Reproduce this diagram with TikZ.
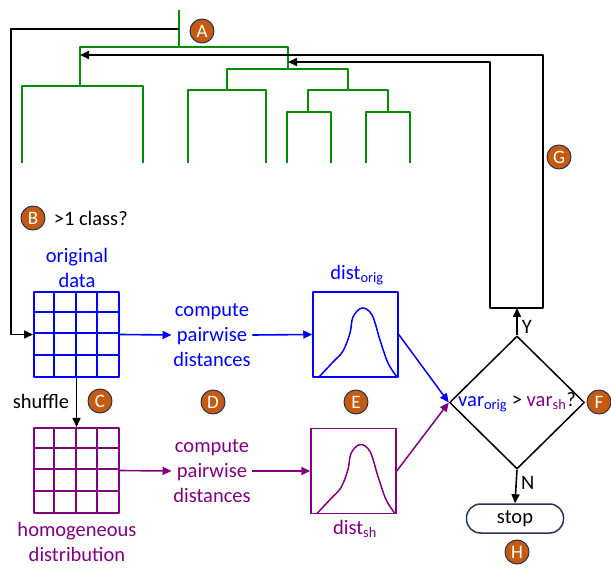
\documentclass[tikz,border=0pt]{standalone}
\usepackage{fontspec}
\setmainfont{Carlito}
\usetikzlibrary{arrows.meta,shapes.geometric}
\definecolor{origc}{RGB}{0,0,255}
\definecolor{shc}{RGB}{128,0,128}
\definecolor{treec}{RGB}{0,140,0}
\definecolor{tagc}{RGB}{197,90,17}
\definecolor{tagl}{RGB}{40,52,84}
\tikzset{
	tag/.style={circle,fill=tagc,draw=tagl,line width=1pt,text=white,minimum size=24pt,inner sep=0pt,font=\fontsize{19}{19}\selectfont},
	txt/.style={align=center,inner sep=1pt,font=\fontsize{20.5}{25}\selectfont},
	grd/.style={draw,line width=2pt,minimum size=85pt,inner sep=0pt},
	dbox/.style={draw,line width=1.5pt,minimum size=85pt,inner sep=0pt},
}
\begin{document}
\begin{tikzpicture}[x=1pt,y=-1pt,line width=1.6pt,line join=round,>={Triangle[length=9pt,width=8pt]}]
	\useasboundingbox (0,0) rectangle (611,569);
	% dendrogram
	\begin{scope}[treec,line width=1.7pt]
		\draw (179,10)--(179,47);
		\draw (80,86)--(80,47)--(288,47)--(288,69);
		\draw (22,163)--(22,86)--(143,86)--(143,163);
		\draw (227,90)--(227,69)--(348,69)--(348,90);
		\draw (188,163)--(188,90)--(266,90)--(266,163);
		\draw (308,112)--(308,90)--(388,90)--(388,112);
		\draw (287,163)--(287,112)--(331,112)--(331,163);
		\draw (366,163)--(366,112)--(410,112)--(410,163);
	\end{scope}
	\coordinate (stem) at (179,29);
	\coordinate (j1) at (80,55);
	\coordinate (j2) at (288,62);
	% data grids
	\node[grd,origc] (orig) at (76.5,334.5) {};
	\node[grd,shc] (shuf) at (76.5,470.5) {};
	\foreach \g/\c in {orig/origc,shuf/shc}{
		\foreach \i in {1,2,3}{
			\draw[\c,line width=2pt] ([xshift=\i*21.25pt]\g.north west)--([xshift=\i*21.25pt]\g.south west);
			\draw[\c,line width=2pt] ([yshift=-\i*21.25pt]\g.north west)--([yshift=-\i*21.25pt]\g.north east);
		}
	}
	\node[txt,origc] at (77,268) {original\\data};
	\node[txt,shc] at (77,542) {homogeneous\\distribution};
	\node[txt,anchor=west] at (52,218) {>1 class?};
	\node[txt] at (41,401) {shuffle};
	% pairwise distances
	\node[txt,origc] (cpo) at (212,335) {compute\\pairwise\\distances};
	\node[txt,shc] (cps) at (212,471) {compute\\pairwise\\distances};
	% distributions
	\node[dbox,origc] (dorig) at (355.5,334.5) {};
	\node[dbox,shc] (dsh) at (353.5,471) {};
	\foreach \b/\c in {dorig/origc,dsh/shc}
		\draw[\c,line width=1.5pt,shift={(\b.center)}] plot[smooth,tension=0.6] coordinates {(-36.5,42.5) (-22.5,27.5) (-12.5,16.5) (-5.5,-1.5) (-2.5,-17.5) (6.5,-26.5) (16.5,-19.5) (24.5,5.5) (32.5,28.5) (41.5,42.5)};
	\node[txt,origc] at (357,275) {dist\textsubscript{orig}};
	\node[txt,shc] at (355,529) {dist\textsubscript{sh}};
	% decision
	\node[diamond,draw,line width=1.5pt,minimum width=135pt,minimum height=133pt,inner sep=0pt] (dec) at (517,402.5) {};
	\node[txt] at (dec.center) {{\color{origc}var\textsubscript{orig}} > {\color{shc}var\textsubscript{sh}}?};
	\node[draw=tagl,line width=1.5pt,rounded corners=14pt,minimum width=97pt,minimum height=29pt,inner sep=0pt,font=\fontsize{20.5}{25}\selectfont] (stop) at (515,518.5) {stop};
	\coordinate (lp) at (517,308);
	% connectors
	\draw[->] (stem) -| ([xshift=-22pt]orig.west) -- (orig.west);
	\draw[->,origc] (orig.east) -- (cpo.west);
	\draw[->,origc] (cpo.east) -- (dorig.west);
	\draw[->,shc] (shuf.east) -- (cps.west);
	\draw[->,shc] (cps.east) -- (dsh.west);
	\draw[->] (orig.south) -- (shuf.north);
	\draw[->,origc,line width=1.5pt] (dorig.east) -- (dec.west);
	\draw[->,shc,line width=1.5pt] (dsh.east) -- (dec.west);
	\draw[->] (dec.north) -- (lp) node[txt,pos=0.3,right=3pt] {Y};
	\draw[->] (dec.south) -- (stop.north) node[txt,pos=0.4,right=3pt] {N};
	\draw[->] (lp) -- ++(-27,0) |- (j2);
	\draw[->] (lp) -- ++(26,0) |- (j1);
	% tags
	\node[tag] at (202,31) {A};
	\node[tag] at (33,218) {B};
	\node[tag] at (100,401) {C};
	\node[tag] at (213,402) {D};
	\node[tag] at (356,402) {E};
	\node[tag] at (599,402) {F};
	\node[tag] at (559,157) {G};
	\node[tag] at (517,552) {H};
\end{tikzpicture}
\end{document}
